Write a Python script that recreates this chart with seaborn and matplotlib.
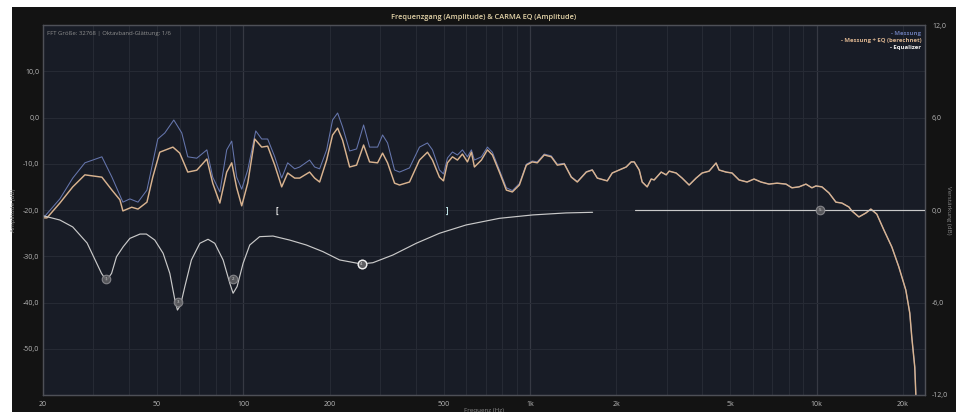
import numpy as np
import pandas as pd
import matplotlib
matplotlib.use("Agg")
import matplotlib.pyplot as plt
from matplotlib.patches import Rectangle
from matplotlib.ticker import FixedLocator, FixedFormatter, NullLocator
import seaborn as sns

# ---------------------------------------------------------------- data
# Measured response below ~1.7 kHz (Hz, dB)
messung_hz = [20.2, 22.9, 25.4, 28.0, 32.1, 34.8, 38.0, 40.2, 42.9, 46.1,
              50.3, 53.2, 57.2, 61.0, 64.0, 68.8, 74.6, 78.2, 82.8, 87.5,
              91.1, 94.8, 98.7, 103.6, 110.5, 115.9, 121.6, 128.7, 136.1, 142.8,
              151.1, 157.3, 170.3, 177.3, 184.6, 195.3, 204.8, 213.3, 222.0, 234.9,
              248.4, 262.8, 275.7, 294.0, 306.1, 318.6, 337.0, 350.8, 380.0, 411.7,
              439.0, 457.0, 483.4, 499.2, 515.5, 536.6, 558.5, 581.4, 605.2, 624.9,
              640.1, 677.1, 710.6, 739.6, 782.4, 827.6, 868.4, 918.5, 971.5, 1019,
              1061, 1122, 1187, 1246, 1318, 1394, 1463, 1573, 1650]
messung_db = [-21.5, -17.6, -13.1, -9.8, -8.5, -12.9, -18.3, -17.6, -18.3, -15.7,
              -4.65, -3.35, -0.54, -3.35, -8.5, -8.8, -7.0, -12.9, -16.1, -7.0,
              -5.1, -12.9, -15.5, -11.35, -2.9, -4.65, -4.65, -8.5, -13.1, -9.8,
              -11.1, -10.7, -9.2, -10.7, -11.1, -7.0, -0.54, 0.97, -2.05, -7.24,
              -6.8, -1.62, -6.4, -6.4, -3.78, -5.5, -11.35, -11.8, -10.9, -6.4,
              -5.5, -7.0, -11.35, -12.2, -8.76, -7.46, -8.1, -7.0, -8.5, -7.0,
              -9.2, -8.5, -6.4, -7.5, -11.35, -15.2, -15.8, -14.3, -10.1, -9.4,
              -9.6, -7.9, -8.3, -10.1, -9.9, -12.8, -13.85, -11.7, -11.3]

# Measurement with EQ applied (calculated) below ~1.7 kHz (Hz, dB)
messung_eq_hz = [20.2, 20.65, 22.9, 25.4, 28.0, 32.1, 34.8, 37.1, 38.0, 40.8,
                 42.9, 46.1, 48.3, 51.1, 56.8, 60.0, 64.0, 68.8, 74.6, 78.2,
                 82.8, 87.5, 91.1, 94.8, 98.7, 103.6, 109.6, 115.9, 121.6, 128.7,
                 136.1, 142.8, 151.1, 157.3, 170.3, 177.3, 184.6, 195.3, 204.8, 213.3,
                 222.0, 234.9, 248.4, 262.8, 275.7, 294.0, 306.1, 318.6, 337.0, 350.8,
                 380.0, 411.7, 439.0, 457.0, 483.4, 499.2, 515.5, 536.6, 558.5, 581.4,
                 605.2, 624.9, 640.1, 677.1, 710.6, 739.6, 782.4, 827.6, 868.4, 918.5,
                 971.5, 1019, 1061, 1122, 1187, 1246, 1318, 1394, 1463, 1573, 1650]
messung_eq_db = [-21.7, -21.7, -18.5, -15.0, -12.4, -12.9, -15.7, -17.8, -20.2, -19.4,
                 -19.8, -18.3, -12.9, -7.5, -6.4, -7.7, -11.8, -11.4, -8.97, -14.2,
                 -18.5, -11.8, -9.8, -15.2, -19.1, -14.2, -4.65, -6.4, -6.2, -10.3,
                 -15.0, -12.0, -13.1, -13.1, -11.8, -13.1, -13.95, -9.2, -3.8, -2.3,
                 -4.9, -10.7, -10.3, -5.95, -9.6, -9.8, -7.7, -9.8, -14.2, -14.6,
                 -13.95, -9.2, -7.5, -9.2, -12.9, -13.7, -9.8, -8.5, -9.2, -7.9,
                 -9.6, -7.5, -10.7, -9.2, -7.0, -8.1, -11.8, -15.7, -16.1, -14.6,
                 -10.3, -9.6, -9.8, -8.1, -8.5, -10.3, -10.05, -12.9, -13.95, -11.8, -11.35]

# Above ~1.7 kHz the EQ is flat, so both curves share this part (Hz, dB)
tail_hz = [1718, 1861, 1937, 2049, 2167, 2256, 2311, 2406, 2464, 2565,
           2649, 2713, 2870, 2988, 3061, 3237, 3396, 3593, 3800, 3988,
           4218, 4461, 4570, 4834, 5072, 5365, 5722, 6052, 6401, 6825,
           7279, 7824, 8207, 8681, 9183, 9636, 9951, 10442, 11045, 11683,
           12257, 12967, 13283, 14051, 14862, 15470, 16233, 17170, 18310, 19366,
           20484, 21151, 21494, 22016, 22193, 22400]
tail_db = [-13.1, -13.7, -12.0, -11.35, -10.7, -9.6, -9.6, -11.35, -13.95, -15.0,
           -13.3, -13.5, -11.8, -12.4, -11.6, -12.0, -13.1, -14.6, -13.1, -12.0,
           -11.6, -9.84, -11.35, -11.8, -12.0, -13.5, -13.95, -13.3, -13.95, -14.4,
           -14.2, -14.4, -15.2, -15.0, -14.4, -15.2, -14.8, -15.0, -16.3, -18.3,
           -18.5, -19.35, -20.2, -21.5, -20.65, -19.8, -20.9, -24.3, -28.0, -32.3,
           -37.3, -42.3, -47.5, -54.0, -59.6, -66.0]

# Equalizer gain curve (Hz, dB); the second segment is the flat upper range
eq_hz = [20.2, 22.9, 25.4, 28.5, 30.8, 32.0, 33.3, 34.7, 36.1, 38.1,
         40.2, 43.6, 45.9, 49.1, 52.5, 55.4, 57.7, 58.9, 60.4, 62.5,
         65.9, 70.5, 75.3, 79.5, 85.0, 89.7, 92.1, 95.1, 99.8, 105.3,
         114.0, 126.9, 145.1, 165.9, 189.5, 216.7, 257.9, 283.1, 332.4, 401.0,
         483.4, 598.9, 782.4, 1022, 1336, 1654]
eq_db = [-0.39, -0.65, -1.10, -2.14, -3.46, -4.11, -4.59, -4.11, -3.03, -2.38,
         -1.84, -1.56, -1.56, -1.95, -2.81, -4.11, -5.84, -6.49, -6.16, -4.97,
         -3.24, -2.16, -1.90, -2.16, -3.24, -4.75, -5.40, -4.97, -3.46, -2.27,
         -1.73, -1.69, -1.95, -2.27, -2.70, -3.24, -3.50, -3.42, -2.92, -2.16,
         -1.51, -0.97, -0.54, -0.32, -0.19, -0.15]
eq_flat_hz = [2330, 24000]
eq_flat_db = [0.0, 0.0]

# Filter bands (centre frequency, gain) and their numbers
band_hz = [33.2, 59.1, 91.8, 258.6, 10276]
band_gain = [-4.47, -5.96, -4.47, -3.5, 0.0]
band_labels = ["1", "3", "2", "4", "5"]

# Range markers of the correction
range_hz = [130.7, 515.5]
range_marks = ["[", "]"]

x_ticks = [20, 50, 100, 200, 500, 1000, 2000, 5000, 10000, 20000]
x_tick_labels = ["20", "50", "100", "200", "500", "1k", "2k", "5k", "10k", "20k"]
left_ticks = [-50, -40, -30, -20, -10, 0, 10]
right_ticks = [-12, -6, 0, 6, 12]

# ---------------------------------------------------------------- style
BG = "#131313"
PANEL = "#181c26"
GRID = "#262a34"
GRID_MAJOR = "#363943"
SPINE = "#4e5057"
TXT = "#b8b8b8"
C_MESS = "#6676ad"
C_MESS_EQ = "#d9b38f"
C_EQ = "#c9c9c9"

sns.set_theme(style="dark")
plt.rcParams["font.family"] = ["Open Sans", "DejaVu Sans"]

fig = plt.figure(figsize=(9.56, 4.12), dpi=100, facecolor="white")
fig.patches.append(Rectangle((12 / 956, 0), 1 - 12 / 956, 405 / 412,
                             transform=fig.transFigure, facecolor=BG,
                             edgecolor="none", zorder=-10))
ax = fig.add_axes([43 / 956, 17 / 412, 882 / 956, 370 / 412])
ax.set_facecolor(PANEL)
ax.set_xscale("log")

df_mess = pd.DataFrame({"Frequenz": messung_hz + tail_hz,
                        "Pegel": messung_db + tail_db})
df_mess_eq = pd.DataFrame({"Frequenz": messung_eq_hz + tail_hz,
                           "Pegel": messung_eq_db + tail_db})
df_eq = pd.DataFrame({"Frequenz": eq_hz + eq_flat_hz,
                      "Gain": eq_db + eq_flat_db,
                      "Segment": [0] * len(eq_hz) + [1] * len(eq_flat_hz)})
df_band = pd.DataFrame({"Frequenz": band_hz, "Gain": band_gain})

sns.lineplot(data=df_mess, x="Frequenz", y="Pegel", ax=ax, color=C_MESS,
             linewidth=0.75, estimator=None, zorder=3)
sns.lineplot(data=df_mess_eq, x="Frequenz", y="Pegel", ax=ax, color=C_MESS_EQ,
             linewidth=1.05, estimator=None, zorder=4)

# grid: minor decade lines plus brighter decade lines
minor = [m * d for d in (10, 100, 1000, 10000) for m in range(2, 10)]
for f in minor:
    if 20 < f < 23900:
        ax.axvline(f, color=GRID, lw=0.8, zorder=1)
for f in (100, 1000, 10000):
    ax.axvline(f, color=GRID_MAJOR, lw=0.9, zorder=1)
for v in left_ticks:
    ax.axhline(v, color=GRID, lw=0.8, zorder=1)

ax.set_ylim(-60, 20)
ax.set_yticks(left_ticks)
ax.set_yticklabels([f"{v:.1f}".replace(".", ",") for v in left_ticks])
ax.tick_params(axis="y", length=0, pad=2.5, labelsize=5, labelcolor=TXT)
ax.set_ylabel("Amplitude (dB)", fontsize=4.5, color="#8a8a8a", labelpad=5)
for s in ax.spines.values():
    s.set_color(SPINE)
    s.set_linewidth(0.9)

# equalizer on the right-hand gain axis
ax2 = ax.twinx()
sns.lineplot(data=df_eq, x="Frequenz", y="Gain", units="Segment", ax=ax2,
             color=C_EQ, linewidth=0.85, estimator=None, zorder=3)
sns.scatterplot(data=df_band, x="Frequenz", y="Gain", ax=ax2, s=38,
                color="#5e5e62", edgecolor="#8c8c90", linewidth=0.8,
                alpha=0.9, zorder=5, legend=False)
ax2.scatter([band_hz[3]], [band_gain[3]], s=38, facecolor="#5e5e62",
            edgecolor="#f0f0f0", linewidth=1.0, zorder=6)
for f, g, t in zip(band_hz, band_gain, band_labels):
    ax2.text(f, g, t, fontsize=3.2, color="#d8d8d8", ha="center",
             va="center", zorder=7)
for f, t, c in zip(range_hz, range_marks, ["#eeeeee", "#bfe3e6"]):
    ax2.text(f, 0, t, fontsize=5.5, color=c, ha="center", va="center",
             fontweight="bold", zorder=7)

ax2.set_ylim(-12, 12)
ax2.set_yticks(right_ticks)
ax2.set_yticklabels([f"{v:.1f}".replace(".", ",") for v in right_ticks])
ax2.tick_params(axis="y", length=0, pad=5, labelsize=5, labelcolor=TXT)
ax2.set_ylabel("Verstärkung (dB)", fontsize=4.5, color="#8a8a8a",
               rotation=270, labelpad=2)
ax2.set_xlabel("")
ax2.grid(False)
for s in ax2.spines.values():
    s.set_color(SPINE)
    s.set_linewidth(0.9)

# frequency axis: fixed labels, no minor ticks
ax.set_xlim(20, 23900)
ax.xaxis.set_major_locator(FixedLocator(x_ticks))
ax.xaxis.set_major_formatter(FixedFormatter(x_tick_labels))
ax.xaxis.set_minor_locator(NullLocator())
ax.tick_params(axis="x", which="both", length=0, pad=4, labelsize=5,
               labelcolor=TXT)
ax.set_xlabel("Frequenz (Hz)", fontsize=4.5, color="#8a8a8a", labelpad=0)

ax.set_title("Frequenzgang (Amplitude) & CARMA EQ (Amplitude)", fontsize=5.3,
             color="#e3d3a8", pad=4, fontweight="semibold")
ax.text(0.004, 0.985, "FFT Größe: 32768 | Oktavband-Glättung: 1/6",
        transform=ax.transAxes, fontsize=4.3, color="#8f8f8f",
        ha="left", va="top")
legend_items = [("- Messung", C_MESS), ("- Messung + EQ (berechnet)", C_MESS_EQ),
                ("- Equalizer", "#f2f2f2")]
for i, (t, c) in enumerate(legend_items):
    ax.text(0.996, 0.985 - i * 0.019, t, transform=ax.transAxes, fontsize=4.3,
            color=c, ha="right", va="top", fontweight="bold")

fig.savefig("out.png", dpi=100, facecolor=fig.get_facecolor())
